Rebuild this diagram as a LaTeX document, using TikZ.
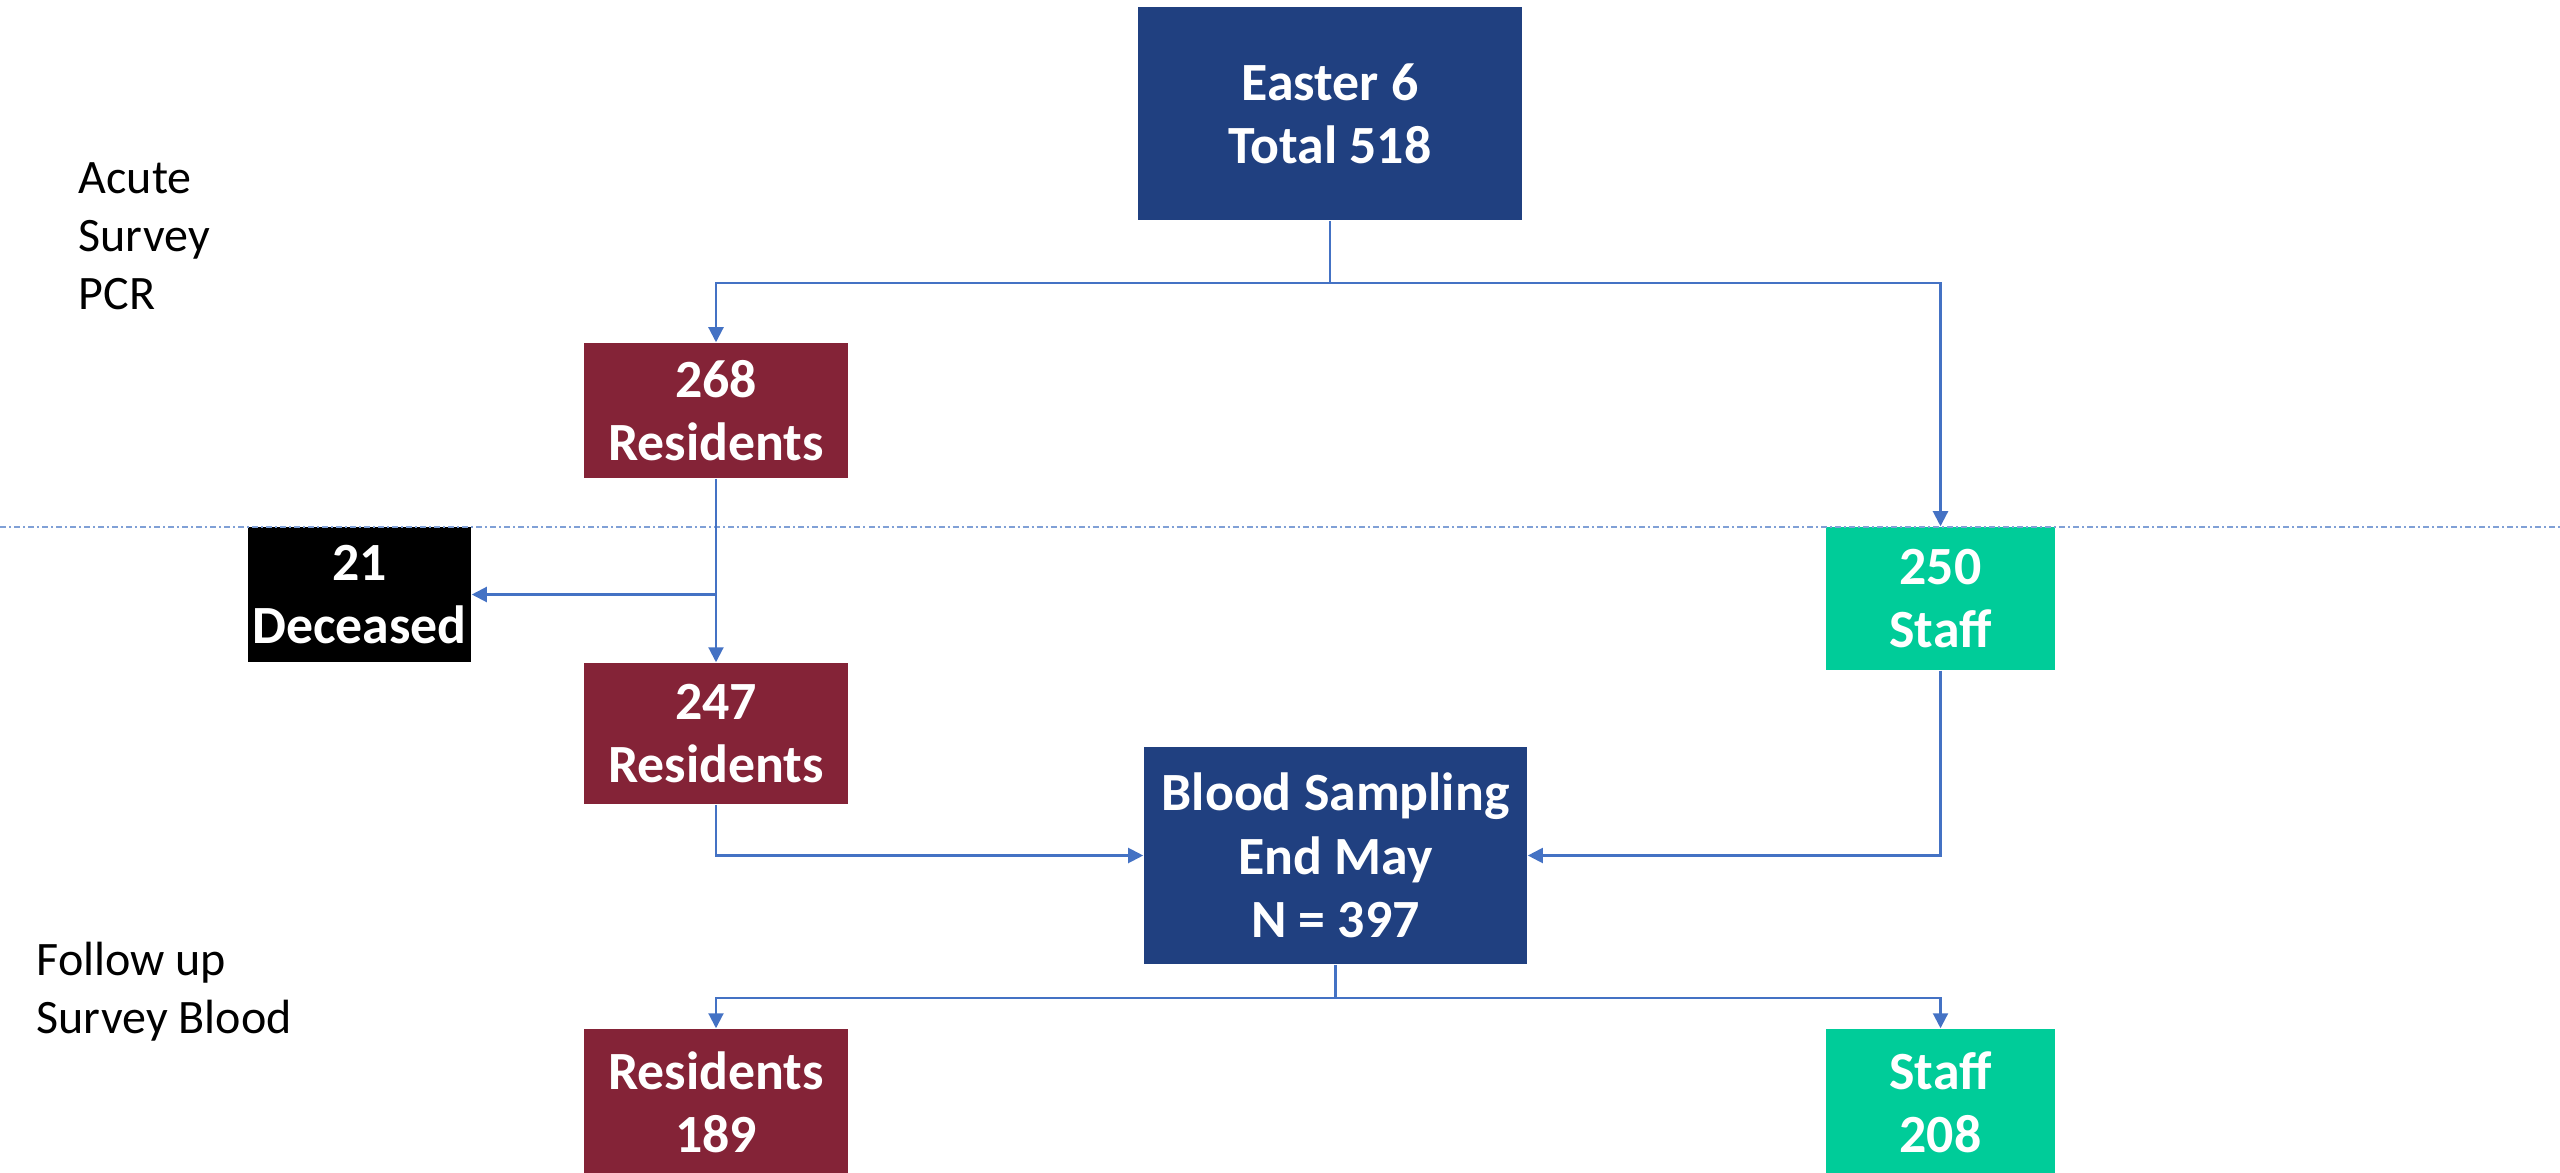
\documentclass[tikz,border=0pt]{standalone}
\usepackage{fontspec}
\setmainfont{Carlito}
\usetikzlibrary{arrows.meta}
\definecolor{navybox}{RGB}{32,64,128}
\definecolor{maroonbox}{RGB}{132,35,55}
\definecolor{tealbox}{RGB}{0,204,153}
\definecolor{conncol}{RGB}{68,114,196}
\definecolor{sepcol}{RGB}{128,160,214}
\begin{document}
\begin{tikzpicture}[x=0.01cm,y=-0.01cm,
  box/.style={inner sep=0pt, align=center, text=white,
    font=\fontsize{15.3pt}{18.0pt}\selectfont\bfseries},
  bluebox/.style={box, fill=navybox},
  resbox/.style={box, fill=maroonbox},
  staffbox/.style={box, fill=tealbox},
  deadbox/.style={box, fill=black},
  label/.style={inner sep=0pt, align=left, anchor=north west,
    font=\fontsize{13.66pt}{16.5pt}\selectfont},
  conn/.style={draw=conncol, line width=0.6pt},
  arr/.style={conn, -{Triangle[length=0.15cm,width=0.15cm]}},
  sep/.style={draw=sepcol, line width=0.6pt,
    dash pattern=on 0.06cm off 0.03cm on 0.02cm off 0.03cm}
]
\useasboundingbox (0,0) rectangle (2560,1173);

% boxes
\node[bluebox, minimum width=3.84cm, minimum height=2.13cm] (top) at (1330,113.5) {Easter 6\\Total 518};
\node[resbox, minimum width=2.64cm, minimum height=1.35cm] (r268) at (716,410.5) {268\\Residents};
\node[deadbox, minimum width=2.23cm, minimum height=1.35cm] (dec) at (359.5,594.5) {21\\Deceased};
\node[resbox, minimum width=2.64cm, minimum height=1.41cm] (r247) at (716,733.5) {247\\Residents};
\node[staffbox, minimum width=2.29cm, minimum height=1.43cm] (s250) at (1940.5,598.5) {250\\Staff};
\node[bluebox, minimum width=3.83cm, minimum height=2.17cm] (blood) at (1335.5,855.5) {Blood Sampling\\End May\\N = 397};
\node[resbox, minimum width=2.64cm, minimum height=1.46cm] (r189) at (716,1102) {Residents\\189};
\node[staffbox, minimum width=2.29cm, minimum height=1.46cm] (s208) at (1940.5,1102) {Staff\\208};

% side labels
\node[label] (acute) at (78,162) {Acute\\Survey\\PCR};
\node[label] (follow) at (36,941) {Follow up\\Survey Blood};

% separator
\coordinate (sepL) at (0,527);
\coordinate (sepR) at (2560,527);
\draw[sep] (sepL) -- (sepR);

% connectors
\coordinate (j1) at (1330,283);
\draw[conn] (top.south) -- (j1);
\draw[arr] (j1) -| (r268.north);
\draw[arr] (j1) -| (s250.north);

\draw[arr] (r268.south) -- (r247.north);
\draw[arr] (r268.south |- dec.east) -- (dec.east);

\draw[arr] (r247.south) |- (blood.west);
\draw[arr] (s250.south) |- (blood.east);

\coordinate (j2) at (1335.5,998);
\draw[conn] (blood.south) -- (j2);
\draw[arr] (j2) -| (r189.north);
\draw[arr] (j2) -| (s208.north);
\end{tikzpicture}
\end{document}
